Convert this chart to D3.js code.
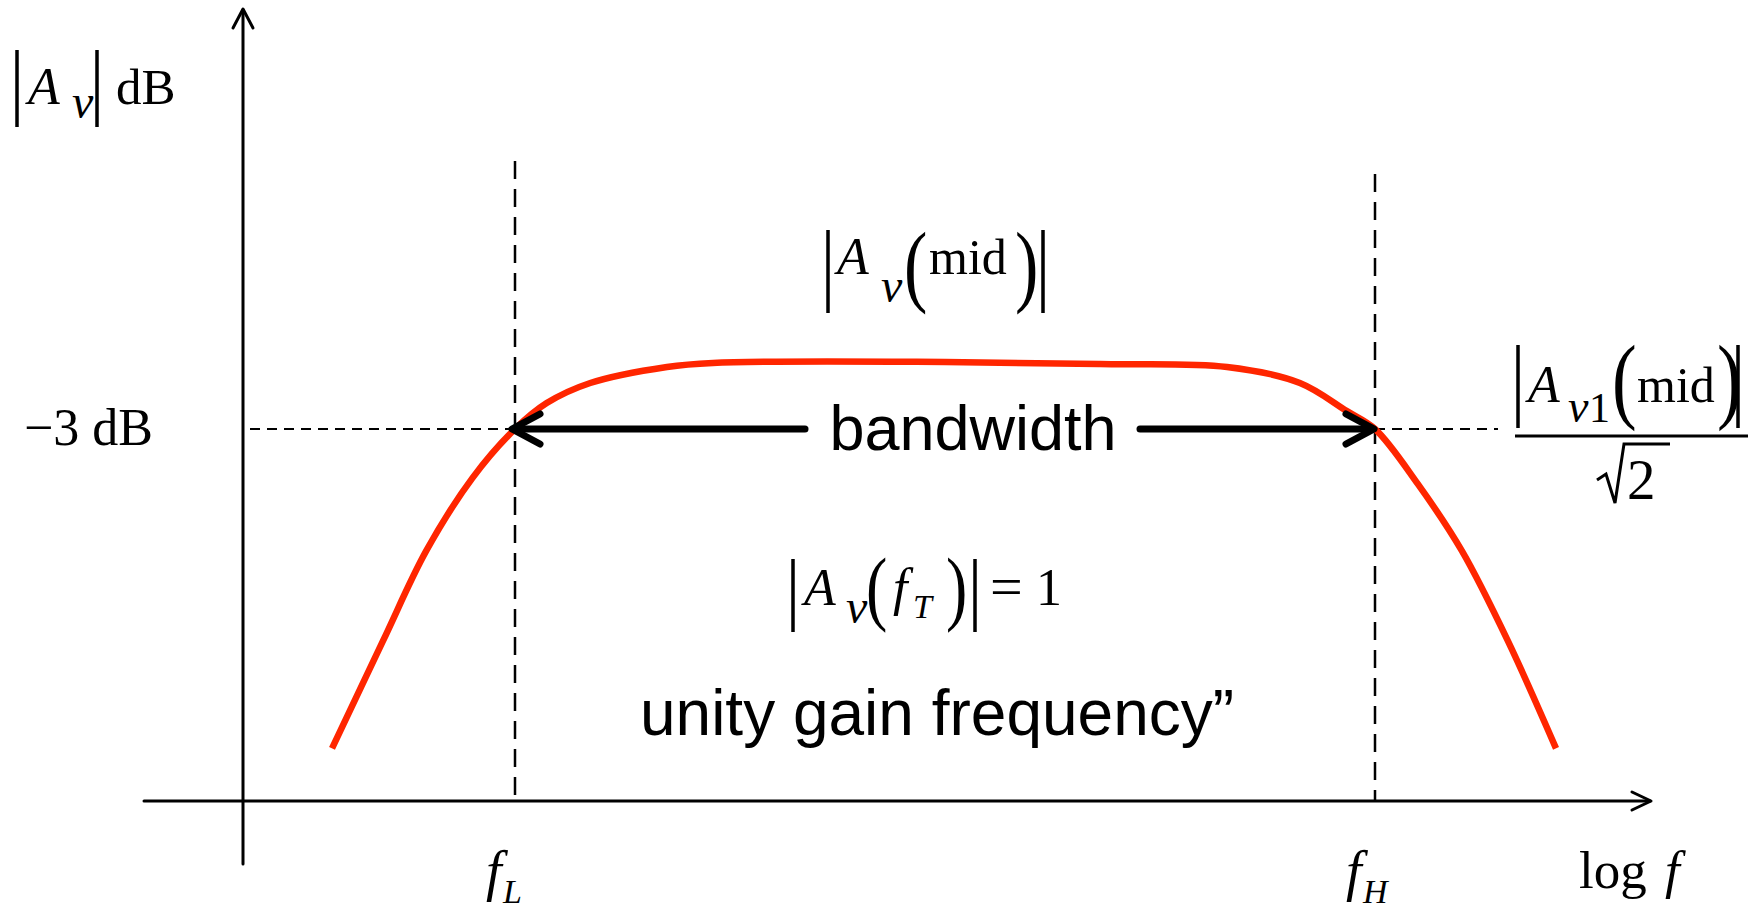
<!DOCTYPE html>
<html>
<head>
<meta charset="utf-8">
<script src="https://cdn.jsdelivr.net/npm/d3@7"></script>
<style>
  html, body { margin: 0; padding: 0; background: #fff; }
  svg { display: block; }
</style>
</head>
<body>
<svg id="chart" width="1764" height="912"></svg>
<script>
// Amplifier magnitude response, |Av| in dB against log frequency.
const freqHz = [23, 34.6, 49, 71, 100, 129, 183, 339, 490, 3162, 10980, 30460, 54700, 79800, 100000, 141000, 201000, 291000, 428000];
const gainDb = [-17.3, -12.5, -8.46, -5.2, -3, -1.84, -0.94, -0.22, -0.04, 0, -0.09, -0.22, -0.94, -2.2, -3, -5.46, -8.46, -12.5, -17.3];

// Corner frequencies and the half-power level
const cornerNames = ["L", "H"];
const cornerHz = [100, 100000];
const halfPowerDb = -3;

// Text labels
const bandLabel = "bandwidth";
const unityLabel = "unity gain frequency\u201D";
const levelLabel = "\u22123 dB";

const serif = "'Liberation Serif', 'Times New Roman', serif";
const sans = "'Liberation Sans', Arial, sans-serif";

const svg = d3.select("#chart");

const x = d3.scaleLog().domain([cornerHz[0], cornerHz[1]]).range([515, 1375]);
const y = d3.scaleLinear().domain([halfPowerDb, 0]).range([429, 362]);

const axisX0 = 243, axisY0 = 801;

// ---- axes with open arrowheads ----
const ax = svg.append("g").attr("stroke", "#000").attr("stroke-width", 3).attr("fill", "none")
  .attr("stroke-linecap", "round").attr("stroke-linejoin", "round");
ax.append("line").attr("x1", axisX0).attr("x2", axisX0).attr("y1", 864).attr("y2", 10);
ax.append("path").attr("d", `M${axisX0 - 10},28 L${axisX0},9 L${axisX0 + 10},28`);
ax.append("line").attr("x1", 144).attr("x2", 1650).attr("y1", axisY0).attr("y2", axisY0);
ax.append("path").attr("d", `M1632,${axisY0 - 9} L1651,${axisY0} L1632,${axisY0 + 9}`);

// ---- dashed guides at the corner frequencies ----
const g = svg.append("g").attr("stroke", "#000").attr("fill", "none");
const cornerTop = [161, 174];
cornerHz.forEach((f, i) => {
  g.append("line").attr("x1", x(f)).attr("x2", x(f))
    .attr("y1", cornerTop[i]).attr("y2", axisY0)
    .attr("stroke-width", 2.5).attr("stroke-dasharray", "18,10");
});
g.append("line").attr("x1", 250).attr("x2", x(cornerHz[0]))
  .attr("y1", y(halfPowerDb)).attr("y2", y(halfPowerDb))
  .attr("stroke-width", 2).attr("stroke-dasharray", "10,7");
g.append("line").attr("x1", x(cornerHz[1])).attr("x2", 1498)
  .attr("y1", y(halfPowerDb)).attr("y2", y(halfPowerDb))
  .attr("stroke-width", 2).attr("stroke-dasharray", "10,7");

// ---- response curve ----
const pts = freqHz.map((f, i) => [f, gainDb[i]]);
const line = d3.line().x(d => x(d[0])).y(d => y(d[1])).curve(d3.curveCatmullRom.alpha(0.5));
svg.append("path").datum(pts).attr("d", line)
  .attr("fill", "none").attr("stroke", "#ff2600").attr("stroke-width", 6.5)
  .attr("stroke-linejoin", "round");

// ---- bandwidth arrows ----
const yb = y(halfPowerDb);
const arr = svg.append("g").attr("stroke", "#000").attr("stroke-width", 7).attr("fill", "none")
  .attr("stroke-linecap", "round").attr("stroke-linejoin", "round");
const lTip = x(cornerHz[0]) - 3, rTip = x(cornerHz[1]) - 1;
arr.append("line").attr("x1", 805).attr("x2", lTip + 4).attr("y1", yb).attr("y2", yb);
arr.append("path").attr("d", `M${lTip + 28},${yb - 15} L${lTip},${yb} L${lTip + 28},${yb + 15}`);
arr.append("line").attr("x1", 1140).attr("x2", rTip - 4).attr("y1", yb).attr("y2", yb);
arr.append("path").attr("d", `M${rTip - 28},${yb - 15} L${rTip},${yb} L${rTip - 28},${yb + 15}`);

svg.append("text").attr("x", 973).attr("y", 450).attr("text-anchor", "middle")
  .attr("font-family", sans).attr("font-size", 63).text(bandLabel);
svg.append("text").attr("x", 937).attr("y", 735).attr("text-anchor", "middle")
  .attr("font-family", sans).attr("font-size", 64).text(unityLabel);

// ---- math-style labels ----
function t(px, py, str, size, italic) {
  return svg.append("text").attr("x", px).attr("y", py)
    .attr("font-family", serif).attr("font-size", size)
    .attr("font-style", italic ? "italic" : "normal").text(str);
}
function paren(px, py, str, size) {
  return svg.append("text").attr("transform", `translate(${px},${py}) scale(0.78,1)`)
    .attr("font-family", serif).attr("font-size", size).text(str);
}
function bar(px, y1, y2) {
  svg.append("line").attr("x1", px).attr("x2", px).attr("y1", y1).attr("y2", y2)
    .attr("stroke", "#000").attr("stroke-width", 3.5);
}

// |Av| dB
bar(17, 50, 127); bar(97, 50, 127);
t(28, 104, "A", 52, true);
t(72, 118, "v", 48, true);
t(116, 104, "dB", 51, false);

// -3 dB
t(24, 445, levelLabel, 52, false);

// |Av(mid)|
bar(828, 230, 313); bar(1043, 230, 313);
t(837, 274, "A", 52, true);
t(881, 302, "v", 48, true);
paren(904, 295, "(", 90);
t(929, 274, "mid", 50, false);
paren(1015, 295, ")", 90);

// |Av1(mid)| / sqrt 2
bar(1518, 345, 428); bar(1738, 345, 428);
t(1528, 402, "A", 52, true);
t(1568, 422, "v", 46, true);
t(1589, 422, "1", 42, false);
paren(1612, 411, "(", 95);
t(1637, 402, "mid", 50, false);
paren(1717, 411, ")", 95);
svg.append("line").attr("x1", 1515).attr("x2", 1748).attr("y1", 436).attr("y2", 436)
  .attr("stroke", "#000").attr("stroke-width", 3);
svg.append("path").attr("d", "M1597,480 L1606,474 L1615,503 L1624,444 L1670,444")
  .attr("fill", "none").attr("stroke", "#000").attr("stroke-width", 3)
  .attr("stroke-linejoin", "miter");
t(1627, 499, "2", 57, false);

// |Av(fT)| = 1
bar(793, 559, 632); bar(975, 559, 632);
t(804, 605, "A", 52, true);
t(846, 623, "v", 48, true);
paren(866, 615, "(", 82);
t(893, 605, "f", 52, true);
t(913, 618, "T", 34, true);
paren(946, 615, ")", 82);
t(990, 606, "=", 58, false);
t(1036, 605, "1", 52, false);

// corner frequency labels
cornerHz.forEach((f, i) => {
  t(x(f) - 29, 890, "f", 56, true);
  t(x(f) - 12, 903, cornerNames[i], 34, true);
});

// axis name
t(1579, 888, "log", 53, false);
t(1665, 888, "f", 53, true);
</script>
</body>
</html>
